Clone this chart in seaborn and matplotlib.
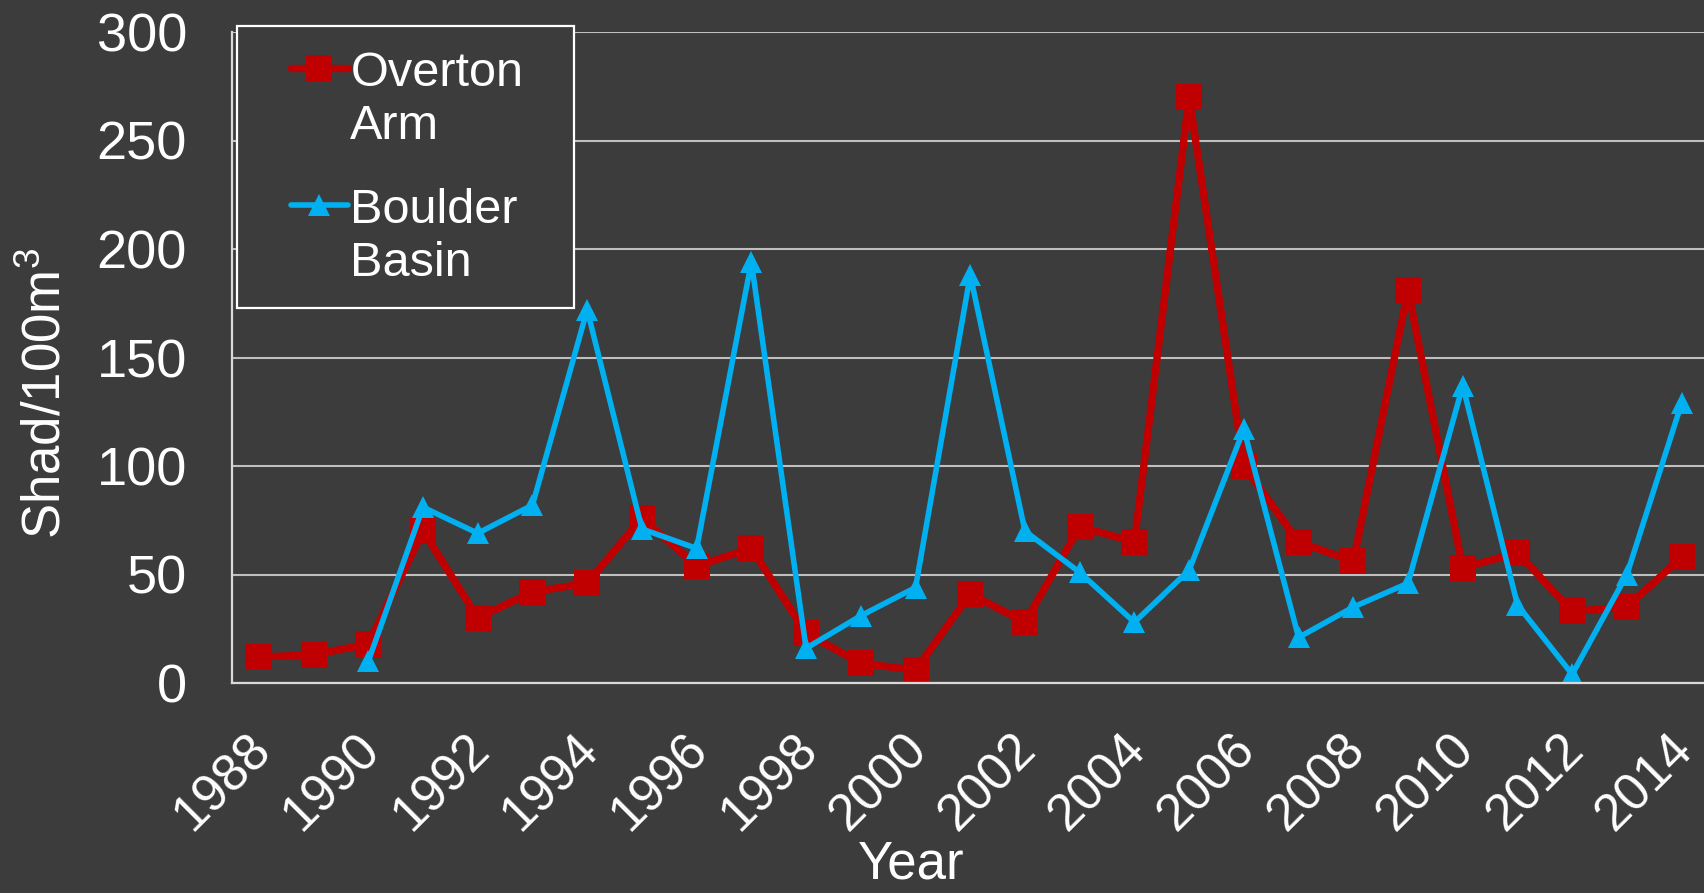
import numpy as np
import pandas as pd
import seaborn as sns
import matplotlib
matplotlib.use("Agg")
import matplotlib.pyplot as plt
from matplotlib.legend_handler import HandlerLine2D
from matplotlib.transforms import Affine2D, ScaledTranslation
from matplotlib.patches import Rectangle

# ---- data ----
years = list(range(1988, 2015))
overton_arm = [12, 13, 18, 70, 30, 42, 46, 76, 54, 62, 23, 9, 6, 41, 28, 72, 65,
               270, 100, 65, 56, 181, 53, 60, 33, 35, 58]
boulder_basin = [np.nan, np.nan, 10, 81, 69, 82, 172, 71, 62, 194, 16, 31, 44, 188,
                 70, 51, 28, 52, 117, 21, 35, 46, 137, 36, 4, 50, 129]
series_names = ["Overton\nArm", "Boulder\nBasin"]
xtick_years = list(range(1988, 2015, 2))
y_ticks = [0, 50, 100, 150, 200, 250, 300]

BG = "#3c3c3c"
RED = "#c00000"
BLUE = "#00b0f0"

sns.set_theme(style="dark", rc={"axes.facecolor": BG, "figure.facecolor": BG})
plt.rcParams["font.family"] = ["Liberation Sans", "DejaVu Sans"]
plt.rcParams["mathtext.fontset"] = "custom"
plt.rcParams["mathtext.rm"] = "Liberation Sans"

df = pd.DataFrame({
    "Year": years * 2,
    "Value": overton_arm + boulder_basin,
    "Site": [series_names[0]] * len(years) + [series_names[1]] * len(years),
})

fig = plt.figure(figsize=(17.04, 8.93), dpi=100)
ax = fig.add_axes([231.5 / 1704, 1 - 683 / 893, 1477.5 / 1704, 651 / 893])
ax.set_facecolor(BG)

styles = {
    series_names[0]: dict(color=RED, marker="s", lw=5.3, ms=19),
    series_names[1]: dict(color=BLUE, marker="^", lw=4.0, ms=16),
}
for name in series_names:
    st = styles[name]
    sub = df[df["Site"] == name].dropna()
    sns.lineplot(data=sub, x="Year", y="Value", ax=ax, color=st["color"],
                 marker=st["marker"], lw=st["lw"], markersize=st["ms"],
                 markeredgewidth=0, markerfacecolor=st["color"], label=name,
                 legend=False)

ax.set_xlim(1987.5, 2014.5)
ax.set_ylim(0, 300)
ax.set_yticks(y_ticks)
ax.set_xticks(xtick_years)
ax.set_xticklabels([str(y) for y in xtick_years], rotation=45, ha="right",
                   fontsize=37, color="white")
ax.set_yticklabels([str(v) for v in y_ticks], fontsize=39, color="white")
ax.tick_params(axis="both", length=0)
ax.tick_params(axis="y", pad=32)
ax.tick_params(axis="x", pad=30)
off = ScaledTranslation(21 / 100, 0, fig.dpi_scale_trans)
for lab in ax.get_xticklabels():
    lab.set_transform(lab.get_transform() + off)

ax.yaxis.grid(True, color="#bfbfbf", lw=1.5)
ax.xaxis.grid(False)
for s in ["top", "right"]:
    ax.spines[s].set_visible(False)
for s in ["left", "bottom"]:
    ax.spines[s].set_color("#d9d9d9")
    ax.spines[s].set_linewidth(1.6)

ax.set_ylabel("Shad/100m$\\mathregular{^3}$", fontsize=38, color="white")
ax.yaxis.set_label_coords(-0.1086, 0.4455)
ax.set_xlabel("Year", fontsize=38, color="white")
ax.xaxis.label.set_va("baseline")
ax.xaxis.set_label_coords(0.46, -0.300)

# legend
class ShiftedHandler(HandlerLine2D):
    def __init__(self, dy_pts, **kw):
        super().__init__(**kw)
        self.dy = dy_pts

    def create_artists(self, legend, orig_handle, xdescent, ydescent, width,
                       height, fontsize, trans):
        arts = super().create_artists(legend, orig_handle, xdescent, ydescent,
                                      width, height, fontsize, trans)
        t = Affine2D().translate(0, self.dy) + trans
        for a in arts:
            a.set_transform(t)
        return arts

frame = Rectangle((0.0037, 0.576), 0.2281, 0.4332, transform=ax.transAxes,
                  facecolor=BG, edgecolor="white", lw=1.6, clip_on=False, zorder=4)
ax.add_patch(frame)

handles = ax.get_lines()[:2]
leg = ax.legend(handles, series_names, loc="upper left",
                bbox_to_anchor=(0.0403, 0.971), borderaxespad=0, borderpad=0,
                frameon=False, fontsize=35, handlelength=1.17, handletextpad=0.05,
                labelspacing=0.8,
                handler_map={h: ShiftedHandler(23.5) for h in handles})
leg.set_zorder(5)
for t in leg.get_texts():
    t.set_color("white")
    t.set_linespacing(1.23)

fig.savefig("out.png", dpi=100, facecolor=BG)
